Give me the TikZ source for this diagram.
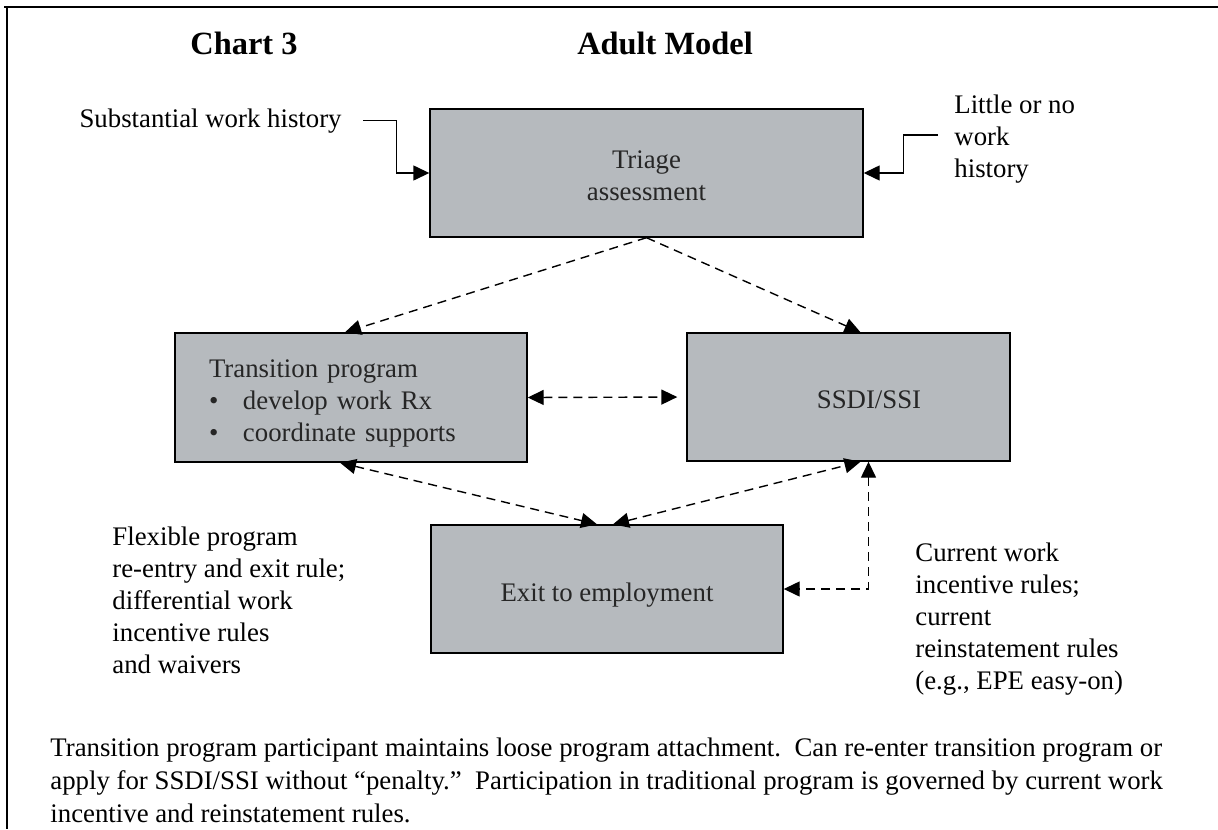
\documentclass[tikz,border=0pt]{standalone}
\usepackage{fontspec}
\setmainfont{Liberation Serif}
\usetikzlibrary{arrows.meta, positioning}
\definecolor{boxgray}{RGB}{182,186,190}
\newcommand{\bodyfont}{\fontsize{13.4}{16}\selectfont}
\newcommand{\headfont}{\fontsize{16.2}{19}\selectfont\bfseries}
\newcommand{\lift}[1]{\rule{0pt}{#1}}

\tikzset{
  box/.style={draw, line width=0.7pt, fill=boxgray, inner sep=0pt, font=\bodyfont, text=black!85},
  plain/.style={inner sep=0pt, font=\bodyfont, align=left},
  link/.style={line width=0.7pt, -{Triangle[length=8pt,width=7.5pt]}},
  dlink/.style={link, dash pattern=on 4.5pt off 3pt},
  both/.style={{Triangle[length=8pt,width=7.5pt]}-{Triangle[length=8pt,width=7.5pt]}}
}

\begin{document}
\begin{tikzpicture}[x=0.5pt,y=-0.5pt]
\useasboundingbox (0,0) rectangle (1218,829);
\draw[line width=1.2pt] (4,7) -- (1218,7); % frame
\draw[line width=1.2pt] (7,7) -- (7,829);

\node[plain, font=\headfont, anchor=base] (chart) at (244,55) {Chart 3};
\node[plain, font=\headfont, anchor=base] (adult) at (665,55) {Adult Model};

\node[box, minimum width=216.5pt, minimum height=64pt, align=center] (triage) at (646.5,173) {\lift{12pt}Triage\\assessment};
\node[box, minimum height=64.5pt, text width=142pt, inner xsep=17pt, align=left] (trans) at (351,397.5)
  {\lift{15pt}Transition program\\\makebox[17pt][l]{\textbullet}develop work Rx\\\makebox[17pt][l]{\textbullet}coordinate supports};
\node[box, minimum width=161.5pt, minimum height=64pt] (ssdi) at (848.5,397) {\lift{12pt}\hspace*{20.5pt}SSDI/SSI};
\node[box, minimum width=176pt, minimum height=64pt] (exit) at (607,589) {\lift{15pt}Exit to employment};

% base = last line
\node[plain, anchor=base east] (subst) at (342,127) {Substantial work history};
\node[plain, anchor=base west] (little) at (954,177) {Little or no\\work\\history};
\node[plain, anchor=base west] (flex) at (112,673) {Flexible program\\re-entry and exit rule;\\differential work\\incentive rules\\and waivers};
\node[plain, anchor=base west] (curr) at (915,689) {Current work\\incentive rules;\\current\\reinstatement rules\\(e.g., EPE easy-on)};
\node[plain, anchor=base west, font=\fontsize{13.4}{16.5}\selectfont] (note) at (50,822) {Transition program participant maintains loose program attachment.\ \ Can re-enter transition program or\\apply for SSDI/SSI without “penalty.”\ \ Participation in traditional program is governed by current work\\incentive and reinstatement rules.};

\draw[link] ([xshift=10.5pt]subst.east) -| ([xshift=-16.5pt]triage.west) -- (triage.west);
\draw[link] ([xshift=-8pt,yshift=1.8pt]little.west) -| ([xshift=20pt]triage.east) -- (triage.east);

\draw[dlink] (triage.south) -- ([xshift=-3pt]trans.north);
\draw[dlink] (triage.south) -- ([xshift=6pt]ssdi.north);
\draw[dlink, both, shorten >=4.5pt] (trans.east) -- (ssdi.west);
\draw[dlink, both] ([xshift=-5.5pt]trans.south) -- ([xshift=-5pt]exit.north);
\draw[dlink, both] ([xshift=3pt]exit.north) -- ([xshift=6pt]ssdi.south);
\draw[dlink, both] ([xshift=10pt]ssdi.south) |- (exit.east);
\end{tikzpicture}
\end{document}
